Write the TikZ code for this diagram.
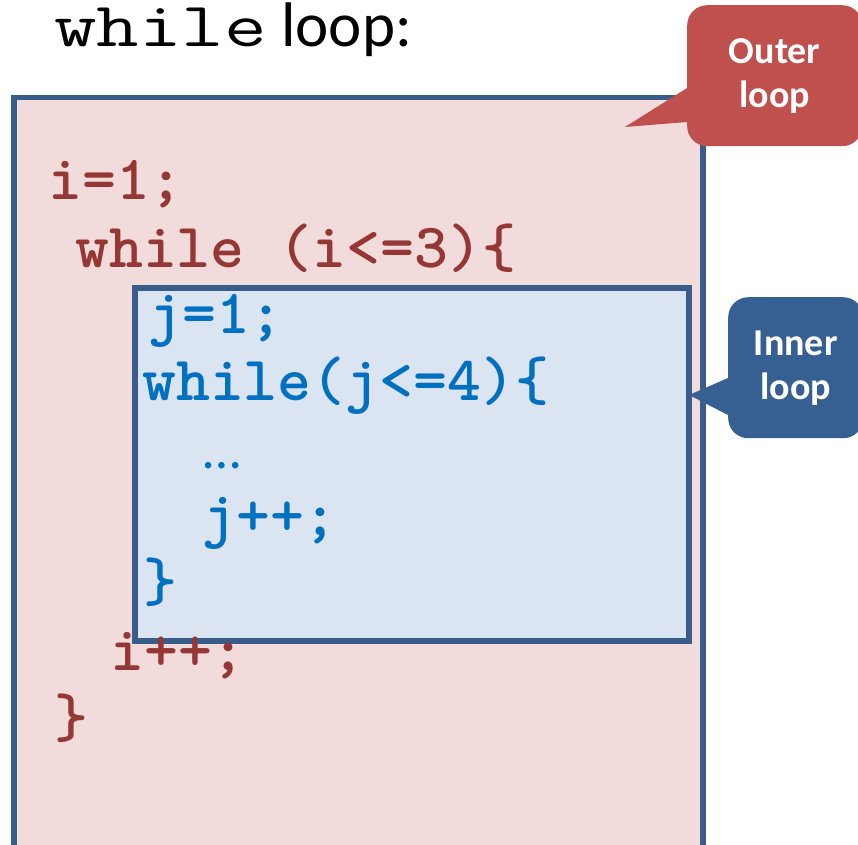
\documentclass[tikz,border=0pt]{standalone}
\usepackage{fontspec}
\setmainfont{Carlito}
\definecolor{outerfill}{HTML}{F2DCDB}
\definecolor{innerfill}{HTML}{DBE5F1}
\definecolor{frameblue}{HTML}{385D8A}
\definecolor{codered}{HTML}{953735}
\definecolor{codeblue}{HTML}{0070C0}
\definecolor{calloutred}{HTML}{C0504D}
\definecolor{calloutblue}{HTML}{376092}
\newcommand{\codeline}[1]{\scalebox{1.025}[1]{#1}}
\tikzset{
  loopbox/.style={draw=frameblue, line width=5.5pt, anchor=north west, inner sep=0pt},
  codetext/.style={anchor=base west, inner sep=0pt,
    font=\ttfamily\bfseries\fontsize{63}{63}\selectfont},
  redcode/.style={codetext, text=codered},
  bluecode/.style={codetext, text=codeblue},
  callout/.style={rounded corners=20pt, anchor=north west, inner sep=0pt,
    text=white, align=center, font=\bfseries\fontsize{38}{44}\selectfont},
}
\begin{document}
\begin{tikzpicture}[x=1pt,y=-1pt]
  \useasboundingbox (0,0) rectangle (858,844);
  \clip (0,0) rectangle (858,844);

  % heading
  \node[anchor=base west, inner sep=0pt, font=\ttfamily\fontsize{63}{63}\selectfont]
    (kw) at (54,46) {\scalebox{1.31}[1]{while}};
  \node[anchor=base west, inner sep=0pt, font=\fontsize{63}{63}\selectfont]
    (lp) at (281,46) {loop:};

  % outer and inner loop frames
  \node[loopbox, fill=outerfill, minimum width=689pt, minimum height=800pt]
    (outer) at (11,94.5) {};
  \node[loopbox, fill=innerfill, minimum width=554pt, minimum height=353pt]
    (inner) at (132,285) {};

  % outer loop code
  \node[redcode] (i1)  at (48,199) {\codeline{i=1;}};
  \node[redcode] (wi)  at (75,267) {\codeline{while (i<=3)\{}};
  \node[redcode] (ipp) at (110,670) {\codeline{i++;}};
  \node[redcode] (ob)  at (54,737) {\codeline{\}}};

  % inner loop code
  \node[bluecode] (j1)  at (148,333) {\codeline{j=1;}};
  \node[bluecode] (wj)  at (142,400) {\codeline{while(j<=4)\{}};
  \node[anchor=base west, inner sep=0pt, text=codeblue,
    font=\fontsize{54}{54}\selectfont] (dots) at (203,468) {…};
  \node[bluecode] (jpp) at (202,535) {\codeline{j++;}};
  \node[bluecode] (ib)  at (143,601) {\codeline{\}}};

  % callouts
  \node[callout, fill=calloutred, minimum width=175pt, minimum height=141pt]
    (oc) at (687,5) {Outer\\loop};
  \coordinate (octip) at (625,127);
  \fill[calloutred] ([yshift=-83pt]oc.north west) -- (octip)
    -- ([yshift=-117pt]oc.north west) -- ([yshift=-117pt,xshift=20pt]oc.north west)
    -- ([yshift=-83pt,xshift=20pt]oc.north west) -- cycle;

  \node[callout, fill=calloutblue, minimum width=135pt, minimum height=141pt]
    (ic) at (728,297) {Inner\\loop};
  \coordinate (ictip) at (689,395);
  \fill[calloutblue] ([yshift=-81pt]ic.north west) -- (ictip)
    -- ([yshift=-118pt]ic.north west) -- ([yshift=-118pt,xshift=20pt]ic.north west)
    -- ([yshift=-81pt,xshift=20pt]ic.north west) -- cycle;
\end{tikzpicture}
\end{document}
